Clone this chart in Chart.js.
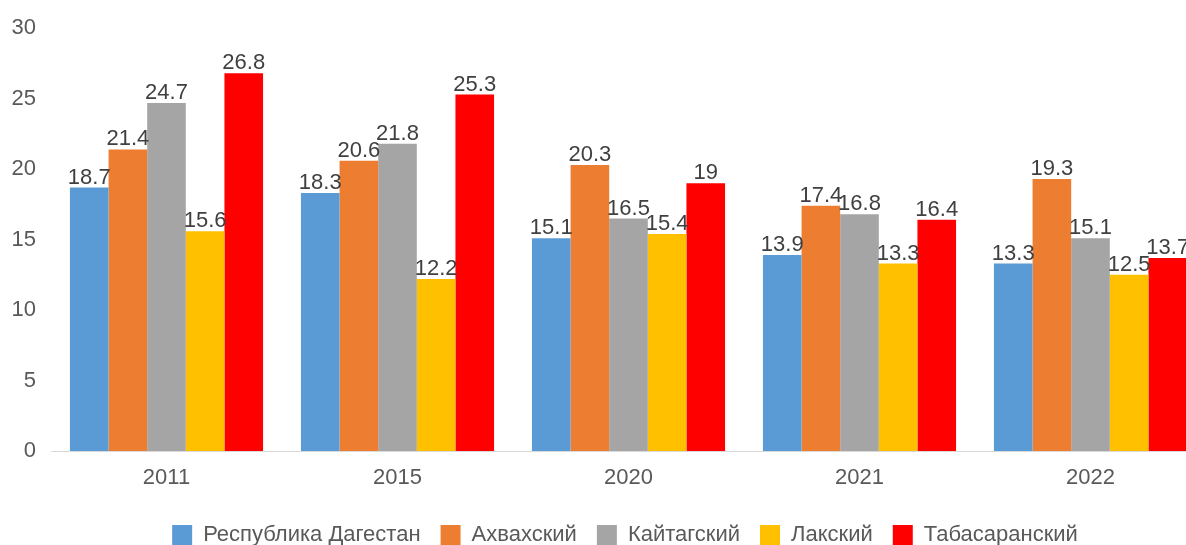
<!DOCTYPE html>
<html>
<head>
<meta charset="utf-8">
<script src="https://cdn.jsdelivr.net/npm/chart.js@4/dist/chart.umd.min.js"></script>
<style>
  html, body { margin: 0; padding: 0; background: #fff; overflow: hidden; width: 1186px; height: 545px; }
  #wrap { position: absolute; left: 0; top: 0; width: 1294px; height: 556px; }
</style>
</head>
<body>
<div id="wrap"><canvas id="c"></canvas></div>
<script>
const categories = ['2011', '2015', '2020', '2021', '2022'];
const seriesNames = ['Республика Дагестан', 'Ахвахский', 'Кайтагский', 'Лакский', 'Табасаранский'];
const dagestan = [18.7, 18.3, 15.1, 13.9, 13.3];
const akhvakh = [21.4, 20.6, 20.3, 17.4, 19.3];
const kaitag = [24.7, 21.8, 16.5, 16.8, 15.1];
const lak = [15.6, 12.2, 15.4, 13.3, 12.5];
const tabasaran = [26.8, 25.3, 19, 16.4, 13.7];
const yTicks = [0, 5, 10, 15, 20, 25, 30];

const colors = ['#5B9BD5', '#ED7D31', '#A5A5A5', '#FFC000', '#FF0000'];
const values = [dagestan, akhvakh, kaitag, lak, tabasaran];
const FONT = '"Liberation Sans", Arial, sans-serif';

const valueLabels = {
  id: 'valueLabels',
  afterDatasetsDraw(chart) {
    const ctx = chart.ctx;
    ctx.save();
    ctx.font = '22px ' + FONT;
    ctx.fillStyle = '#404040';
    ctx.textAlign = 'center';
    ctx.textBaseline = 'bottom';
    chart.data.datasets.forEach((ds, i) => {
      const meta = chart.getDatasetMeta(i);
      meta.data.forEach((bar, j) => {
        ctx.fillText(String(ds.data[j]), bar.x, bar.y + 1);
      });
    });
    ctx.restore();
  }
};

const legendShift = {
  id: 'legendShift',
  afterLayout(chart) {
    if (chart.legend) {
      chart.legend.left += 22;
      chart.legend.right += 22;
    }
  }
};

new Chart(document.getElementById('c'), {
  type: 'bar',
  data: {
    labels: categories,
    datasets: seriesNames.map((n, i) => ({
      label: n,
      data: values[i],
      backgroundColor: colors[i],
      borderWidth: 0,
      categoryPercentage: 0.836,
      barPercentage: 1.0
    }))
  },
  options: {
    responsive: true,
    maintainAspectRatio: false,
    animation: false,
    layout: { padding: { top: 26, right: 88, left: 0, bottom: 0 } },
    plugins: {
      legend: {
        position: 'bottom',
        labels: {
          boxWidth: 20,
          boxHeight: 20,
          padding: 20,
          color: '#595959',
          font: { size: 22, family: FONT }
        }
      },
      tooltip: { enabled: false }
    },
    scales: {
      x: {
        grid: { display: false, drawTicks: false },
        border: { display: true, color: '#D9D9D9', width: 1 },
        ticks: { color: '#595959', font: { size: 22, family: FONT }, padding: 14 },
        afterFit: s => { s.height = 53; }
      },
      y: {
        min: 0,
        max: 30,
        afterBuildTicks: s => { s.ticks = yTicks.map(v => ({ value: v })); },
        grid: { display: false, drawTicks: false },
        border: { display: false },
        ticks: { color: '#595959', font: { size: 22, family: FONT }, padding: 15 },
        afterFit: s => { s.width = 51; }
      }
    }
  },
  plugins: [valueLabels, legendShift]
});
</script>
</body>
</html>
